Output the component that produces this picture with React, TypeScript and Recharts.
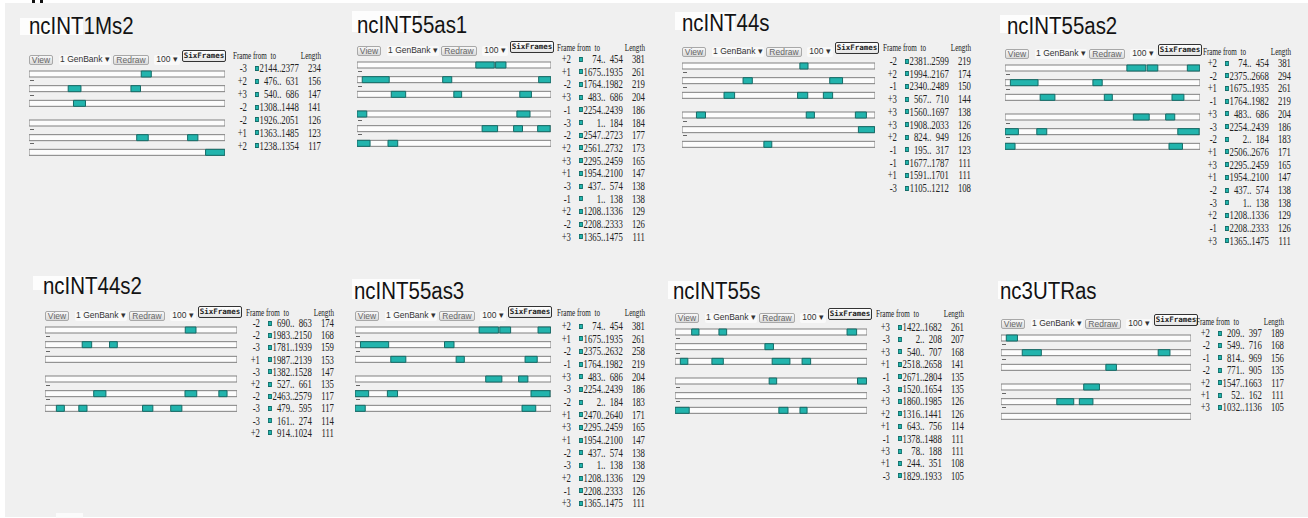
import React from "react";
import { BarChart, Bar, XAxis, YAxis } from "recharts";

type Orf = [string, number, number, number];

const panelNames = ["ncINT1Ms2", "ncINT55as1", "ncINT44s", "ncINT55as2", "ncINT44s2", "ncINT55as3", "ncINT55s", "nc3UTRas"];
// sequence lengths, estimated from where the ORF boxes sit on the tracks
const seqLengths = [2380, 2735, 2605, 2680, 2720, 2645, 2810, 1870];

const orfsINT1Ms2: Orf[] = [
  ["-3", 2144, 2377, 234],
  ["+2", 476, 631, 156],
  ["+3", 540, 686, 147],
  ["-2", 1308, 1448, 141],
  ["-2", 1926, 2051, 126],
  ["+1", 1363, 1485, 123],
  ["+2", 1238, 1354, 117],
];

const orfsINT55as1: Orf[] = [
  ["+2", 74, 454, 381],
  ["+1", 1675, 1935, 261],
  ["-2", 1764, 1982, 219],
  ["+3", 483, 686, 204],
  ["-1", 2254, 2439, 186],
  ["-3", 1, 184, 184],
  ["-2", 2547, 2723, 177],
  ["+2", 2561, 2732, 173],
  ["+3", 2295, 2459, 165],
  ["+1", 1954, 2100, 147],
  ["-3", 437, 574, 138],
  ["-1", 1, 138, 138],
  ["+2", 1208, 1336, 129],
  ["-2", 2208, 2333, 126],
  ["+3", 1365, 1475, 111],
];

const orfsINT44s: Orf[] = [
  ["-2", 2381, 2599, 219],
  ["+2", 1994, 2167, 174],
  ["-1", 2340, 2489, 150],
  ["+3", 567, 710, 144],
  ["+3", 1560, 1697, 138],
  ["+3", 1908, 2033, 126],
  ["+2", 824, 949, 126],
  ["-1", 195, 317, 123],
  ["-1", 1677, 1787, 111],
  ["+1", 1591, 1701, 111],
  ["-3", 1105, 1212, 108],
];

const orfsINT55as2: Orf[] = [
  ["+2", 74, 454, 381],
  ["-2", 2375, 2668, 294],
  ["+1", 1675, 1935, 261],
  ["-1", 1764, 1982, 219],
  ["+3", 483, 686, 204],
  ["-3", 2254, 2439, 186],
  ["-2", 2, 184, 183],
  ["+1", 2506, 2676, 171],
  ["+3", 2295, 2459, 165],
  ["+1", 1954, 2100, 147],
  ["-2", 437, 574, 138],
  ["-3", 1, 138, 138],
  ["+2", 1208, 1336, 129],
  ["-1", 2208, 2333, 126],
  ["+3", 1365, 1475, 111],
];

const orfsINT44s2: Orf[] = [
  ["-2", 690, 863, 174],
  ["-2", 1983, 2150, 168],
  ["-3", 1781, 1939, 159],
  ["+1", 1987, 2139, 153],
  ["-3", 1382, 1528, 147],
  ["+2", 527, 661, 135],
  ["-2", 2463, 2579, 117],
  ["-3", 479, 595, 117],
  ["-3", 161, 274, 114],
  ["+2", 914, 1024, 111],
];

const orfsINT55as3: Orf[] = [
  ["+2", 74, 454, 381],
  ["+1", 1675, 1935, 261],
  ["-2", 2375, 2632, 258],
  ["-1", 1764, 1982, 219],
  ["+3", 483, 686, 204],
  ["-3", 2254, 2439, 186],
  ["-2", 2, 184, 183],
  ["+1", 2470, 2640, 171],
  ["+3", 2295, 2459, 165],
  ["+1", 1954, 2100, 147],
  ["-2", 437, 574, 138],
  ["-3", 1, 138, 138],
  ["+2", 1208, 1336, 129],
  ["-1", 2208, 2333, 126],
  ["+3", 1365, 1475, 111],
];

const orfsINT55s: Orf[] = [
  ["+3", 1422, 1682, 261],
  ["-3", 2, 208, 207],
  ["+3", 540, 707, 168],
  ["+1", 2518, 2658, 141],
  ["-1", 2671, 2804, 135],
  ["-3", 1520, 1654, 135],
  ["+3", 1860, 1985, 126],
  ["+2", 1316, 1441, 126],
  ["+1", 643, 756, 114],
  ["-1", 1378, 1488, 111],
  ["+3", 78, 188, 111],
  ["+1", 244, 351, 108],
  ["-3", 1829, 1933, 105],
];

const orfs3UTRas: Orf[] = [
  ["+2", 209, 397, 189],
  ["-2", 549, 716, 168],
  ["-1", 814, 969, 156],
  ["-2", 771, 905, 135],
  ["+2", 1547, 1663, 117],
  ["+1", 52, 162, 111],
  ["+3", 1032, 1136, 105],
];

const panelOrfs = [orfsINT1Ms2, orfsINT55as1, orfsINT44s, orfsINT55as2, orfsINT44s2, orfsINT55as3, orfsINT55s, orfs3UTRas];

const plusFrames = ["+1", "+2", "+3"];
const minusFrames = ["-1", "-2", "-3"];
const headerWords = ["Frame", "from", "to", "Length"];
const toolbarLabels = ["View", "1 GenBank \u25BE", "Redraw", "100 \u25BE", "SixFrames"];

// where each screenshot sits on the page
const layout = [
  { tx: 29, tw: 196, t1: 71, tbx: 233, gap: 12.9, r1: -2.7, hd: -15, title: [29, 15], box: [20, 18, 63, 17] },
  { tx: 357, tw: 194, t1: 62, tbx: 557, gap: 12.7, r1: -3, hd: -14, title: [357, 14], box: [352, 11, 66, 21] },
  { tx: 682, tw: 193, t1: 63, tbx: 883, gap: 12.7, r1: -2, hd: -15, title: [682, 12], box: [675, 12, 60, 18] },
  { tx: 1005, tw: 195, t1: 65, tbx: 1203, gap: 12.7, r1: -2, hd: -13, title: [1007, 15], box: [1000, 15, 62, 18] },
  { tx: 45, tw: 192, t1: 327, tbx: 246, gap: 12.2, r1: -4, hd: -14, title: [43, 275], box: [33, 276, 64, 14] },
  { tx: 355, tw: 196, t1: 327, tbx: 557, gap: 12.67, r1: -1, hd: -14, title: [354, 280], box: [352, 279, 68, 20] },
  { tx: 675, tw: 192, t1: 329, tbx: 876, gap: 12.4, r1: -2, hd: -15, title: [673, 280], box: [668, 281, 62, 18] },
  { tx: 1001, tw: 190, t1: 335, tbx: 1196, gap: 12.4, r1: -2, hd: -13, title: [1000, 280], box: [998, 281, 62, 18] },
];

const TEAL = "#22b4ad";
const TEAL_EDGE = "#156b67";
const BAR = 6;
const SQUEEZE = 0.87;
const ROW_K = 0.76;
const HEAD_K = 0.68;

function trackRows(orfs: Orf[], frames: string[], len: number) {
  return frames.map((f) => {
    const row: Record<string, unknown> = { frame: f, track: [0, len] };
    orfs
      .filter((o) => o[0] === f)
      .sort((a, b) => a[1] - b[1])
      .forEach((o, i) => {
        row["s" + i] = [o[1], o[2]];
      });
    return row;
  });
}

function StrandChart({ rows, len, width }: { rows: Record<string, unknown>[]; len: number; width: number }) {
  return (
    <BarChart
      layout="vertical"
      width={width}
      height={44}
      data={rows}
      margin={{ top: 0, right: 1, bottom: 0, left: 1 }}
      barGap={-BAR}
    >
      <XAxis type="number" domain={[0, len]} allowDataOverflow hide />
      <YAxis type="category" dataKey="frame" hide />
      <Bar dataKey="track" barSize={BAR} fill="#fcfcfc" stroke="#808080" isAnimationActive={false} />
      {[0, 1, 2, 3].map((i) => (
        <Bar key={i} dataKey={"s" + i} barSize={BAR} fill={TEAL} stroke={TEAL_EDGE} isAnimationActive={false} />
      ))}
    </BarChart>
  );
}

const abs: React.CSSProperties = { position: "absolute", whiteSpace: "nowrap" };

function Toolbar({ tx, t1 }: { tx: number; t1: number }) {
  const y = t1 - 16;
  const btn: React.CSSProperties = {
    ...abs,
    top: y,
    height: 10,
    boxSizing: "border-box",
    border: "1px solid #a8a8a8",
    borderRadius: 2,
    background: "linear-gradient(#f8f8f8, #dadada)",
    fontFamily: "'Liberation Sans', Arial, sans-serif",
    fontSize: 8.5,
    lineHeight: "8px",
    color: "#666",
    textAlign: "center",
  };
  const plain: React.CSSProperties = { ...btn, border: "none", background: "#f9f9f9", color: "#333" };
  return (
    <>
      <div style={{ ...btn, left: tx, width: 24 }}>{toolbarLabels[0]}</div>
      <div style={{ ...plain, left: tx + 30, width: 52 }}>{toolbarLabels[1]}</div>
      <div style={{ ...btn, left: tx + 84, width: 36 }}>{toolbarLabels[2]}</div>
      <div style={{ ...plain, left: tx + 125, width: 26 }}>{toolbarLabels[3]}</div>
      <div
        style={{
          ...btn,
          left: tx + 153,
          top: t1 - 21,
          width: 44,
          height: 12,
          border: "1px solid #333",
          background: "linear-gradient(#ffffff, #e4e4e4)",
          fontFamily: "'DejaVu Sans Mono', monospace",
          fontWeight: 700,
          fontSize: 7.5,
          lineHeight: "10px",
          color: "#222",
        }}
      >
        {toolbarLabels[4]}
      </div>
    </>
  );
}

function OrfTable({ orfs, x, first, head, gap }: { orfs: Orf[]; x: number; first: number; head: number; gap: number }) {
  const cell: React.CSSProperties = { ...abs, height: 12, lineHeight: "12px" };
  const u = (px: number) => px / ROW_K;
  const h = (px: number) => px / HEAD_K;
  const font = "'Liberation Serif', 'Times New Roman', serif";
  const dw = 5.75; // one digit at 11.5px
  return (
    <>
      <div
        style={{
          ...abs,
          left: x,
          top: 0,
          transform: `scaleX(${HEAD_K})`,
          transformOrigin: "0 0",
          fontFamily: font,
          fontSize: 10.5,
          color: "#222",
        }}
      >
        <span style={{ ...cell, left: h(0), top: head - 6 }}>{headerWords[0]}</span>
        <span style={{ ...cell, left: h(20), top: head - 6 }}>{headerWords[1]}</span>
        <span style={{ ...cell, left: h(37.5), top: head - 6 }}>{headerWords[2]}</span>
        <span style={{ ...cell, left: h(88) - 50, width: 50, textAlign: "right", top: head - 6 }}>{headerWords[3]}</span>
      </div>
      <div
        style={{
          ...abs,
          left: x,
          top: 0,
          transform: `scaleX(${ROW_K})`,
          transformOrigin: "0 0",
          fontFamily: font,
          fontSize: 11.5,
          color: "#222",
        }}
      >
        {orfs.map((o, j) => {
          const c = first + j * gap;
          return (
            <React.Fragment key={j}>
              <span style={{ ...cell, left: 0, width: u(14), textAlign: "right", top: c - 6 }}>{o[0]}</span>
              <span
                style={{
                  ...abs,
                  left: u(22),
                  top: c - 2.5,
                  width: u(4),
                  height: 5,
                  boxSizing: "border-box",
                  background: TEAL,
                  border: `0.8px solid ${TEAL_EDGE}`,
                }}
              />
              <span style={{ ...cell, left: u(44) - 4 * dw, width: 4 * dw, textAlign: "right", top: c - 6 }}>{o[1]}</span>
              <span style={{ ...cell, left: u(44), width: dw, top: c - 6 }}>..</span>
              <span style={{ ...cell, left: u(44) + dw, width: 4 * dw, textAlign: "right", top: c - 6 }}>{o[2]}</span>
              <span style={{ ...cell, left: u(88) - 4 * dw, width: 4 * dw, textAlign: "right", top: c - 6 }}>{o[3]}</span>
            </React.Fragment>
          );
        })}
      </div>
    </>
  );
}

function Panel({ index }: { index: number }) {
  const L = layout[index];
  const len = seqLengths[index];
  const orfs = panelOrfs[index];
  const dashTops = [9, 23.7, 57.5, 72.2];
  return (
    <>
      <div style={{ ...abs, left: L.box[0], top: L.box[1], width: L.box[2], height: L.box[3], background: "#fdfdfd" }} />
      <div
        style={{
          ...abs,
          left: L.title[0],
          top: L.title[1],
          fontFamily: "'Liberation Sans', Arial, sans-serif",
          fontSize: 23.5,
          lineHeight: "23px",
          color: "#131313",
          transform: `scaleX(${SQUEEZE})`,
          transformOrigin: "0 0",
        }}
      >
        {panelNames[index]}
      </div>
      <Toolbar tx={L.tx} t1={L.t1} />
      <div style={{ ...abs, left: L.tx - 1, top: L.t1 - 4 }}>
        <StrandChart rows={trackRows(orfs, plusFrames, len)} len={len} width={L.tw + 2} />
      </div>
      <div style={{ ...abs, left: L.tx - 1, top: L.t1 + 44.5 }}>
        <StrandChart rows={trackRows(orfs, minusFrames, len)} len={len} width={L.tw + 2} />
      </div>
      {dashTops.map((d) => (
        <div key={d} style={{ ...abs, left: L.tx + 1, top: L.t1 + d, width: 4, height: 1, background: "#666" }} />
      ))}
      <OrfTable orfs={orfs} x={L.tbx} first={L.t1 + L.r1} head={L.t1 + L.hd} gap={L.gap} />
    </>
  );
}

export default function App() {
  return (
    <div style={{ position: "absolute", left: 0, top: 0, width: 1308, height: 518, background: "#ffffff", overflow: "hidden" }}>
      <div style={{ ...abs, left: 5, top: 3, width: 1303, height: 514, background: "#f0f0f0" }} />
      {/* bottom of the cropped panel letter */}
      <div style={{ ...abs, left: 32, top: 0, width: 3, height: 3, background: "#111" }} />
      <div style={{ ...abs, left: 40, top: 0, width: 3, height: 3, background: "#111" }} />
      <div style={{ ...abs, left: 56, top: 513, width: 27, height: 5, background: "#fbfbfb" }} />
      {panelNames.map((name, i) => (
        <Panel key={name} index={i} />
      ))}
    </div>
  );
}
